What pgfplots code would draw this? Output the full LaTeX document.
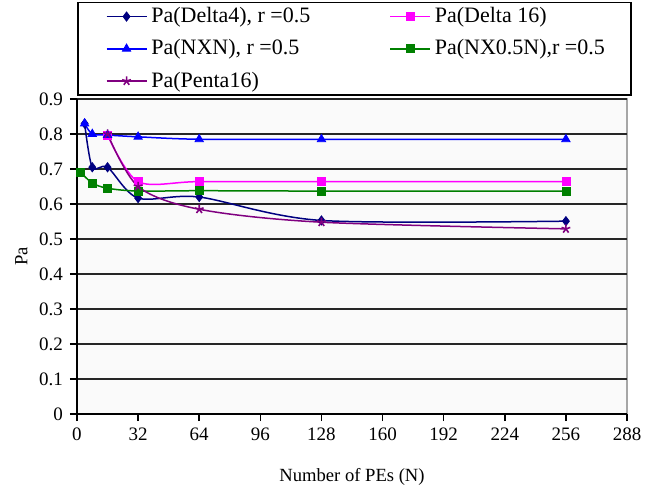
\documentclass[border=0pt]{standalone}
\usepackage{fontspec}
\setmainfont{Liberation Serif}
\usepackage{pgfplots}
\pgfplotsset{compat=1.18}
\definecolor{cNavy}{HTML}{000080}
\definecolor{cMag}{HTML}{FF00FF}
\definecolor{cBlue}{HTML}{0000FF}
\definecolor{cGreen}{HTML}{008000}
\definecolor{cPurp}{HTML}{800080}
\begin{document}
\begin{tikzpicture}
\begin{axis}[
  scale only axis,
  width=275pt, height=157.5pt,
  xmin=0, xmax=288, ymin=0, ymax=0.9,
  xtick={0,32,...,288},
  ytick={0,0.1,...,0.9},
  axis x line*=bottom, axis y line*=left,
  axis line style={black, line width=0.8pt},
  axis background/.style={fill=black!2, draw=black!35, line width=0.8pt},
  tick align=outside,
  major tick length=3.5pt,
  tick style={black, line width=0.8pt},
  ymajorgrids,
  grid style={black!85, line width=0.9pt},
  /pgf/number format/assume math mode=true,
  yticklabel style={/pgf/number format/fixed,/pgf/number format/precision=1},
  ticklabel style={font=\fontsize{9.5}{11}\selectfont},
  label style={font=\fontsize{9.3}{11}\selectfont},
  xlabel={Number of PEs (N)},
  ylabel={Pa},
  xlabel style={yshift=-7pt},
  ylabel style={yshift=-1pt},
  legend columns=2,
  legend cell align=left,
  legend image code/.code={\draw[sharp plot] (0pt,0pt) -- (20pt,0pt); \draw plot[only marks] coordinates {(10pt,0pt)};},
  legend style={at={(axis description cs:0,1)}, anchor=south west, xshift=0pt, yshift=1.5pt,
    draw=black, line width=0.8pt, font=\fontsize{11}{13}\selectfont,
    row sep=3pt, inner xsep=14pt, inner ysep=0.5pt},
  every axis plot/.append style={line width=0.75pt, smooth, tension=0.5},
]
\addplot[cNavy, mark=diamond*, mark size=2.3pt, mark options={solid, line width=0.4pt}] coordinates {
(4,0.83) (8,0.705) (16,0.705) (32,0.617) (64,0.62) (128,0.553) (256,0.551)};
\addlegendentry{\makebox[117pt][l]{Pa(Delta4), r =0.5}}
\addplot[cMag, mark=square*, mark size=2pt, mark options={solid, line width=0.4pt}] coordinates {
(16,0.797) (32,0.664) (64,0.664) (128,0.664) (256,0.664)};
\addlegendentry{\makebox[82pt][l]{Pa(Delta 16)}}
\addplot[cBlue, mark=triangle*, mark size=2.4pt, mark options={solid, line width=0.4pt}] coordinates {
(4,0.83) (8,0.80) (16,0.797) (32,0.792) (64,0.785) (128,0.785) (256,0.785)};
\addlegendentry{\makebox[117pt][l]{Pa(NXN), r =0.5}}
\addplot[cGreen, mark=square*, mark size=2pt, mark options={solid, line width=0.4pt}] coordinates {
(2,0.69) (8,0.66) (16,0.645) (32,0.637) (64,0.638) (128,0.637) (256,0.637)};
\addlegendentry{\makebox[82pt][l]{Pa(NX0.5N),r =0.5}}
\addplot[cPurp, mark=star, mark size=2.3pt, mark options={solid, line width=0.8pt}] coordinates {
(16,0.80) (32,0.65) (64,0.585) (128,0.548) (256,0.529)};
\addlegendentry{\makebox[117pt][l]{Pa(Penta16)}}
\end{axis}
\path[use as bounding box] (-38.5pt,-37pt) rectangle (289.5pt,207pt);
\end{tikzpicture}
\end{document}
